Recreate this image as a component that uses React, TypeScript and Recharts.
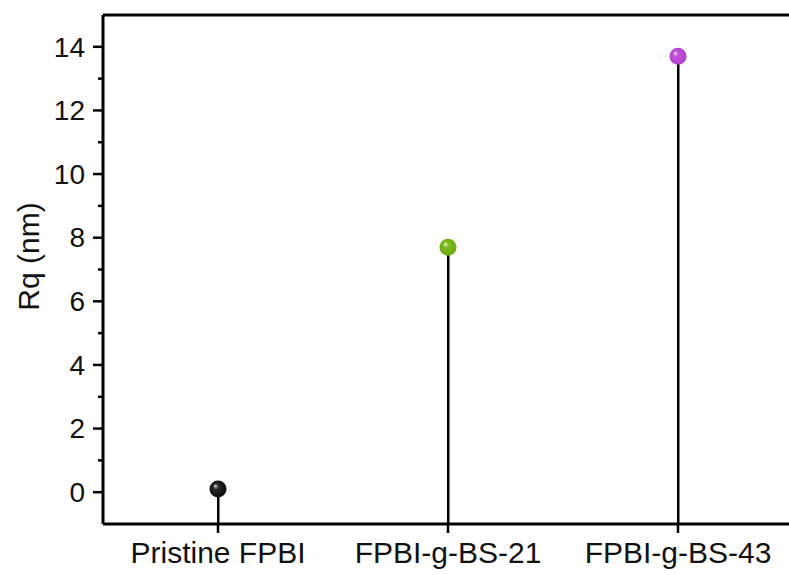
import React from 'react';
import { ComposedChart, Bar, Line, XAxis, YAxis, ReferenceLine } from 'recharts';

const CATEGORIES = ['Pristine FPBI', 'FPBI-g-BS-21', 'FPBI-g-BS-43'];
const RQ_VALUES = [0.1, 7.7, 13.7];
const Y_DOMAIN: [number, number] = [-1, 15];
const Y_TICKS = [0, 1, 2, 3, 4, 5, 6, 7, 8, 9, 10, 11, 12, 13, 14];

const BALL_COLORS = [
  { base: '#050505', mid: '#2a2a2a', light: '#d8d8d8' },
  { base: '#6aa80f', mid: '#7fbb22', light: '#eaf8d2' },
  { base: '#b23fcb', mid: '#c150d8', light: '#f8def9' },
];

const data = CATEGORIES.map((name, i) => ({
  name,
  rq: RQ_VALUES[i],
  stem: [Y_DOMAIN[0], RQ_VALUES[i]],
}));

const FONT = '"Liberation Sans", Arial, Helvetica, sans-serif';
const Y_TICK_SIZE = 10;
const Y_TICK_MARGIN = 8;

function YTick(props: any) {
  const { x, y, payload } = props;
  const axisX = x + Y_TICK_MARGIN + Y_TICK_SIZE;
  const major = payload.value % 2 === 0;
  return (
    <g>
      <line
        x1={axisX - (major ? Y_TICK_SIZE : 5)}
        x2={axisX}
        y1={y}
        y2={y}
        stroke="#000"
        strokeWidth={2.5}
      />
      {major && (
        <text
          x={x}
          y={y}
          dy="0.35em"
          textAnchor="end"
          fontSize={28}
          fontFamily={FONT}
          fill="#111"
        >
          {payload.value}
        </text>
      )}
    </g>
  );
}

function Ball(props: any) {
  const { cx, cy, index } = props;
  if (cx == null || cy == null) return null;
  const c = BALL_COLORS[index % BALL_COLORS.length];
  const id = `ballgrad-${index}`;
  return (
    <g>
      <defs>
        <radialGradient id={id} cx="0.5" cy="0.5" r="0.55" fx="0.33" fy="0.3">
          <stop offset="0%" stopColor={c.light} />
          <stop offset="30%" stopColor={c.mid} />
          <stop offset="100%" stopColor={c.base} />
        </radialGradient>
      </defs>
      <circle cx={cx} cy={cy} r={8.5} fill={`url(#${id})`} />
    </g>
  );
}

function YLabel(props: any) {
  const { viewBox } = props;
  const x = viewBox.x + 28;
  const y = viewBox.y + viewBox.height / 2 - 13;
  return (
    <text
      x={x}
      y={y}
      transform={`rotate(-90, ${x}, ${y})`}
      textAnchor="middle"
      dy="0.35em"
      fontSize={30}
      fontFamily={FONT}
      fill="#111"
    >
      Rq (nm)
    </text>
  );
}

export default function App() {
  return (
    <div
      style={{
        position: 'absolute',
        left: 0,
        top: 0,
        width: 789,
        height: 575,
        overflow: 'hidden',
        background: '#fff',
      }}
    >
      <ComposedChart
        width={800}
        height={575}
        data={data}
        margin={{ top: 15, right: 7, bottom: 0, left: 0 }}
      >
        <XAxis
          dataKey="name"
          type="category"
          interval={0}
          height={51}
          tickSize={9}
          tickMargin={9}
          axisLine={{ stroke: '#000', strokeWidth: 3 }}
          tickLine={{ stroke: '#000', strokeWidth: 2.5 }}
          tick={{ fontSize: 30, fontFamily: FONT, fill: '#111' }}
        />
        <YAxis
          type="number"
          domain={Y_DOMAIN}
          ticks={Y_TICKS}
          interval={0}
          allowDataOverflow
          width={103}
          tickSize={Y_TICK_SIZE}
          tickMargin={Y_TICK_MARGIN}
          tickLine={false}
          axisLine={{ stroke: '#000', strokeWidth: 3 }}
          tick={<YTick />}
          label={<YLabel />}
        />
        <ReferenceLine y={Y_DOMAIN[1]} stroke="#000" strokeWidth={3} />
        <Bar dataKey="stem" barSize={2.5} fill="#000" isAnimationActive={false} />
        <Line
          dataKey="rq"
          stroke="none"
          dot={<Ball />}
          activeDot={false}
          isAnimationActive={false}
        />
      </ComposedChart>
    </div>
  );
}
